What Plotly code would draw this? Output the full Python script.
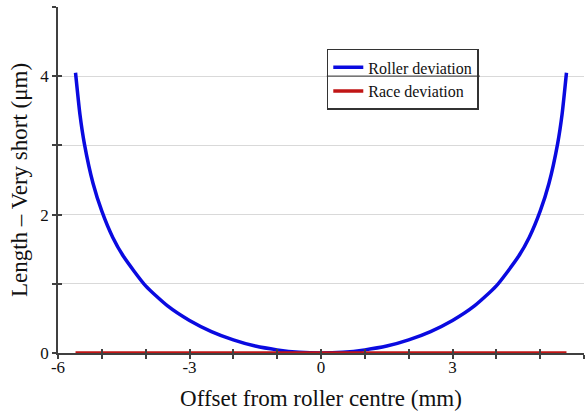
import plotly.graph_objects as go

# Data
offset_mm = [-5.6, -5.5, -5.4, -5.2, -5.0, -4.75, -4.5, -4.0, -3.5, -3.0, -2.5, -2.0, -1.5, -1.0, -0.5,
             0.0, 0.5, 1.0, 1.5, 2.0, 2.5, 3.0, 3.5, 4.0, 4.5, 4.75, 5.0, 5.2, 5.4, 5.5, 5.6]
roller_dev = [4.05, 3.45, 3.03, 2.45, 2.05, 1.67, 1.39, 0.97, 0.68, 0.47, 0.31, 0.19, 0.10, 0.045, 0.011,
              0.0, 0.011, 0.045, 0.10, 0.19, 0.31, 0.47, 0.68, 0.97, 1.39, 1.67, 2.05, 2.45, 3.03, 3.45, 4.05]
race_x = [-5.6, 5.6]
race_dev = [0.0, 0.0]

x_tickvals = [-6, -5, -4, -3, -2, -1, 0, 1, 2, 3, 4, 5, 6]
x_ticktext = ["-6", "", "", "-3", "", "", "0", "", "", "3", "", "", "6"]
y_tickvals = [0, 1, 2, 3, 4, 5]
y_ticktext = ["0", "", "2", "", "4", ""]

FONT = "Liberation Serif, Times New Roman, serif"
AX = "#404040"

fig = go.Figure()
fig.add_trace(go.Scatter(x=offset_mm, y=roller_dev, mode="lines", name="Roller deviation",
                         line=dict(color="#0a0ae0", width=3.5, shape="spline", smoothing=0.6)))
fig.add_trace(go.Scatter(x=race_x, y=race_dev, mode="lines", name="Race deviation",
                         line=dict(color="#c01515", width=3.5)))

common_x = dict(range=[-6, 6], tickvals=x_tickvals, showgrid=False, zeroline=False,
                linecolor=AX, linewidth=1.5, tickcolor=AX, tickwidth=1.5, ticklen=4)
common_y = dict(range=[0, 5], tickvals=y_tickvals, zeroline=False,
                linecolor=AX, linewidth=1.5, tickcolor=AX, tickwidth=1.5, ticklen=4)

LEG_X0, LEG_X1 = 0.511, 0.802

fig.update_layout(
    width=586, height=418,
    margin=dict(l=58, r=2, t=7, b=65),
    paper_bgcolor="white", plot_bgcolor="white",
    font=dict(family=FONT, color="#111111", size=17),
    xaxis=dict(**common_x, ticktext=x_ticktext, ticks="outside", showline=True,
               title=dict(text="Offset from roller centre (mm)", font=dict(size=23), standoff=14),
               tickfont=dict(size=17), ticklabelstandoff=-6),
    yaxis=dict(**common_y, ticktext=y_ticktext, ticks="outside", showline=True,
               showgrid=True, gridcolor="#d9d9d9", gridwidth=1.2,
               title=dict(text="Length – Very short (μm)", font=dict(size=23), standoff=6),
               tickfont=dict(size=17)),
    xaxis2=dict(**common_x, overlaying="x", matches="x", anchor="y", ticks="inside",
                showticklabels=False, showline=False),
    yaxis2=dict(**common_y, overlaying="y", matches="y", anchor="x", ticks="inside",
                showticklabels=False, showline=False, showgrid=False),
    showlegend=True,
    legend=dict(x=LEG_X0, y=0.879, xanchor="left", yanchor="top",
                bgcolor="rgba(0,0,0,0)", bordercolor="#333333", borderwidth=1.5,
                font=dict(size=16, family=FONT), itemwidth=30),
    shapes=[dict(type="line", xref="paper", yref="y", x0=LEG_X0, x1=LEG_X1, y0=4, y1=4,
                 line=dict(color="#555555", width=1.2), layer="above")],
)

# Invisible trace to activate the overlay axes (crossing ticks)
fig.add_trace(go.Scatter(x=[None], y=[None], xaxis="x2", yaxis="y2", showlegend=False, hoverinfo="skip"))

fig.write_html("out.html")
